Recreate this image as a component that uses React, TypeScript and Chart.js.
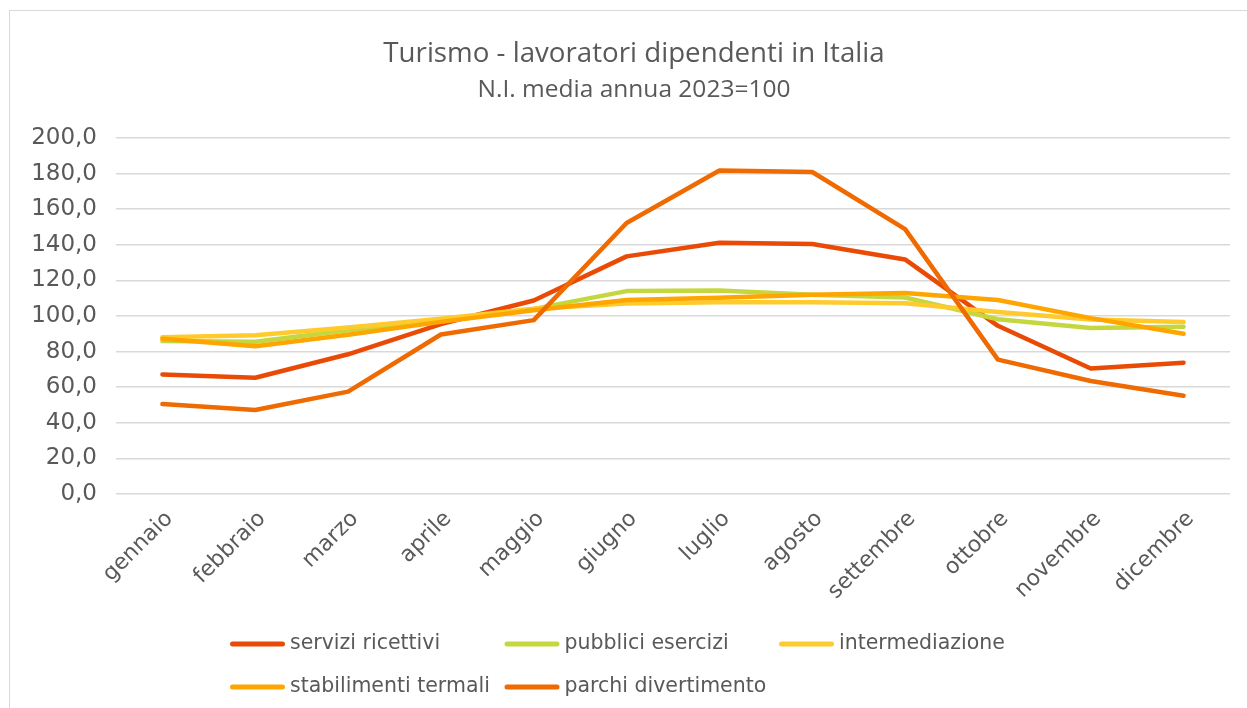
import React, { useEffect, useRef } from "react";
import { Chart, registerables } from "chart.js";

Chart.register(...registerables);

const months = [
  "gennaio",
  "febbraio",
  "marzo",
  "aprile",
  "maggio",
  "giugno",
  "luglio",
  "agosto",
  "settembre",
  "ottobre",
  "novembre",
  "dicembre",
];

const serviziRicettivi = [67.2, 65.3, 78.5, 95.5, 108.7, 133.5, 141.2, 140.5, 131.8, 94.5, 70.5, 73.8];
const pubbliciEsercizi = [86.0, 85.6, 92.0, 97.8, 104.0, 114.0, 114.4, 112.0, 110.4, 98.2, 93.3, 94.0];
const intermediazione = [88.1, 89.2, 93.5, 98.5, 104.1, 107.1, 107.8, 107.7, 107.2, 102.3, 98.0, 96.6];
const stabilimentiTermali = [87.2, 83.0, 89.5, 96.7, 103.3, 109.0, 110.2, 112.0, 113.0, 109.0, 98.8, 90.0];
const parchiDivertimento = [50.5, 47.2, 57.5, 89.6, 97.7, 152.3, 181.8, 180.9, 148.8, 75.5, 63.5, 55.2];

const seriesNames = [
  "servizi ricettivi",
  "pubblici esercizi",
  "intermediazione",
  "stabilimenti termali",
  "parchi divertimento",
];
const seriesValues = [serviziRicettivi, pubbliciEsercizi, intermediazione, stabilimentiTermali, parchiDivertimento];
const seriesColors = ["#E94B06", "#C4D73F", "#FFCA2C", "#FFA500", "#EF6A00"];

const yMin = 0;
const yMax = 200;
const yStep = 20;

const TEXT = "#595959";
const GRID = "#D9D9D9";

const CANVAS_W = 1240;
const CANVAS_H = 697;
const PAD_LEFT = 8;
const RIGHT_GAP = 20;
const PAD_BOTTOM = 100;
const PLOT_LEFT = 106;
const PLOT_BOTTOM = 483;

const gridLegend = {
  id: "gridLegend",
  afterDraw(chart: any) {
    const ctx = chart.ctx as CanvasRenderingContext2D;
    const cols = [220, 494.5, 769];
    const rows = [633, 676];
    ctx.save();
    chart.data.datasets.forEach((ds: any, i: number) => {
      const x = cols[i % 3];
      const y = rows[Math.floor(i / 3)];
      ctx.strokeStyle = ds.borderColor;
      ctx.lineWidth = 5;
      ctx.lineCap = "round";
      ctx.beginPath();
      ctx.moveTo(x + 2.5, y);
      ctx.lineTo(x + 52.5, y);
      ctx.stroke();
      ctx.fillStyle = TEXT;
      ctx.font = "20.5px 'DejaVu Sans'";
      ctx.textBaseline = "middle";
      ctx.textAlign = "left";
      ctx.fillText(ds.label, x + 60, y);
    });
    ctx.restore();
  },
};

export default function App() {
  const ref = useRef<HTMLCanvasElement | null>(null);

  useEffect(() => {
    if (!ref.current) return;
    const chart = new Chart(ref.current, {
      type: "line",
      data: {
        labels: months,
        datasets: seriesNames.map((name, i) => ({
          label: name,
          data: seriesValues[i],
          borderColor: seriesColors[i],
          backgroundColor: seriesColors[i],
          borderWidth: 4.5,
          pointRadius: 0,
          pointHoverRadius: 0,
          tension: 0,
          fill: false,
          borderCapStyle: "round" as const,
          borderJoinStyle: "round" as const,
          order: seriesNames.length - i,
        })),
      },
      options: {
        animation: false,
        responsive: true,
        maintainAspectRatio: false,
        layout: { padding: { top: 0, left: PAD_LEFT, right: 0, bottom: PAD_BOTTOM } },
        plugins: {
          legend: { display: false },
          tooltip: { enabled: false },
          title: {
            display: true,
            text: "Turismo - lavoratori dipendenti in Italia",
            color: TEXT,
            font: { family: "'Open Sans'", size: 27.7, weight: "normal" },
            padding: { top: 26.5, bottom: 4.6 },
          },
          subtitle: {
            display: true,
            text: "N.I. media annua 2023=100",
            color: TEXT,
            font: { family: "'Open Sans'", size: 24.5, weight: "normal" },
            padding: { top: 0, bottom: 33.3 },
          },
        },
        scales: {
          x: {
            offset: true,
            grid: { display: false, offset: true },
            border: { display: false },
            ticks: {
              color: TEXT,
              font: { family: "'DejaVu Sans'", size: 22 },
              minRotation: 45,
              maxRotation: 45,
              padding: 4,
              labelOffset: 7,
            },
            afterFit: (scale: any) => {
              scale.height = CANVAS_H - PAD_BOTTOM - PLOT_BOTTOM;
            },
          },
          y: {
            min: yMin,
            max: yMax,
            grid: { color: GRID, lineWidth: 1.5, drawTicks: false },
            border: { display: false },
            ticks: {
              stepSize: yStep,
              color: TEXT,
              padding: 19,
              font: { family: "'DejaVu Sans'", size: 23 },
              callback: (v: any) => Number(v).toFixed(1).replace(".", ","),
            },
            afterFit: (scale: any) => {
              scale.width = PLOT_LEFT - PAD_LEFT;
            },
          },
          yRightGap: {
            position: "right",
            min: yMin,
            max: yMax,
            grid: { display: false, drawTicks: false },
            border: { display: false },
            ticks: { display: false },
            afterFit: (scale: any) => {
              scale.width = RIGHT_GAP;
            },
          },
        },
      },
      plugins: [gridLegend],
    });
    return () => chart.destroy();
  }, []);

  return (
    <div
      style={{
        position: "fixed",
        left: 9,
        top: 10,
        width: CANVAS_W,
        height: CANVAS_H,
        border: `1px solid ${GRID}`,
        background: "#fff",
      }}
    >
      <canvas ref={ref} />
    </div>
  );
}
